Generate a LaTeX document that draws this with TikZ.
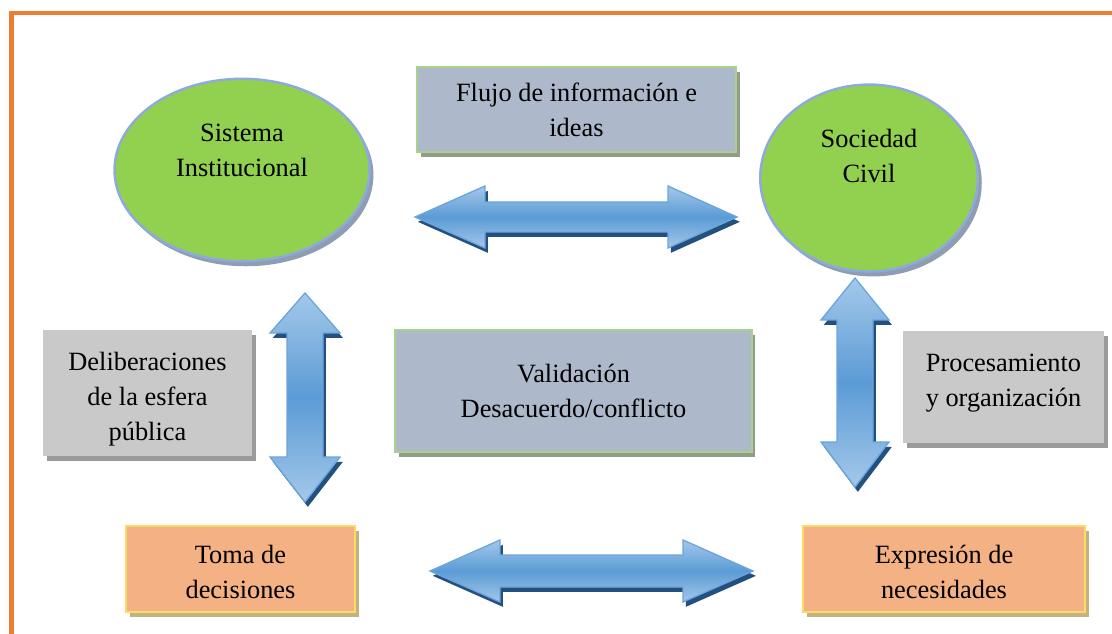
\documentclass[tikz,border=0pt]{standalone}
\usepackage{fontspec}
\setmainfont{Liberation Serif}
\usetikzlibrary{positioning, shapes.geometric, shadows}

\definecolor{frameorange}{HTML}{ED7D31}
\definecolor{ellgreen}{HTML}{92D050}
\definecolor{ellborder}{HTML}{8EAADB}
\definecolor{ellshadow}{HTML}{8E9DB3}
\definecolor{boxblue}{HTML}{ADB9CA}
\definecolor{boxgreen}{HTML}{A9D18E}
\definecolor{infoshadow}{HTML}{939C89}
\definecolor{boxgrey}{HTML}{C9C9C9}
\definecolor{greyshadow}{HTML}{9A9A9A}
\definecolor{boxorange}{HTML}{F4B183}
\definecolor{boxyellow}{HTML}{FFD966}
\definecolor{outshadow}{HTML}{C2B383}
\definecolor{arrowlight}{HTML}{A4C8EA}
\definecolor{arrowmid}{HTML}{5B9BD5}
\definecolor{arrowline}{HTML}{6AA5DC}
\definecolor{arrowshadow}{HTML}{24507E}

\begin{document}
\begin{tikzpicture}[x=0.455pt, y=-0.455pt,
    every node/.style={font=\fontsize{12}{16}\selectfont, align=center},
    boxshadow/.style={drop shadow={shadow xshift=1.8pt, shadow yshift=-2.3pt, fill=#1, opacity=1}},
    blob/.style={ellipse, draw=ellborder, line width=1.1pt, fill=ellgreen, inner sep=0pt, boxshadow=ellshadow},
    infobox/.style={rectangle, draw=boxgreen, line width=0.9pt, fill=boxblue, boxshadow=infoshadow},
    greybox/.style={rectangle, fill=boxgrey, boxshadow=greyshadow},
    outbox/.style={rectangle, draw=boxyellow, line width=1pt, fill=boxorange, boxshadow=outshadow},
    blockarrow/.style={draw=arrowline, line width=0.6pt, line join=miter,
      top color=arrowlight, bottom color=arrowlight, middle color=arrowmid,
      drop shadow={shadow xshift=1.3pt, shadow yshift=-2.2pt, fill=arrowshadow, opacity=1}},
    frameline/.style={draw=frameorange, line width=2pt}]
  \useasboundingbox (0,0) rectangle (1112,634);
  \draw[frameline] (1112,13) -- (11.5,13) -- (11.5,634);

  \node[blob, minimum width=116pt, minimum height=83pt] (sis) at (242,170) {};
  \node (sistxt) at ([yshift=9pt]sis.center) {Sistema\\Institucional};
  \node[blob, minimum width=99pt, minimum height=85pt] (soc) at (869,178) {};
  \node (soctxt) at ([yshift=10pt]soc.center) {Sociedad\\Civil};

  \node[infobox, minimum width=145pt, minimum height=38.7pt] (flujo) at (576.5,109.5)
    {Flujo de información e\\ideas};
  \node[infobox, minimum width=162pt, minimum height=55.5pt] (valid) at (573.5,391)
    {Validación\\Desacuerdo/conflicto};

  \node[greybox, minimum width=95pt, minimum height=57pt] (delib) at (147.5,393) {};
  \node (delibtxt) at ([yshift=-2.8pt]delib.center) {Deliberaciones\\de la esfera\\pública};
  \node[greybox, minimum width=91.5pt, minimum height=51pt] (proc) at (1003.5,387) {};
  \node (proctxt) at ([yshift=1.6pt]proc.center) {Procesamiento\\y organización};

  \node[outbox, minimum width=104pt, minimum height=39pt] (toma) at (240.5,569) {};
  \node (tomatxt) at ([yshift=-1.2pt]toma.center) {Toma de\\decisiones};
  \node[outbox, minimum width=128pt, minimum height=39pt] (expr) at (944,569) {};
  \node (exprtxt) at ([yshift=-1.4pt]expr.center) {Expresión de\\necesidades};

  \path[blockarrow] (415,217) -- (485,186) -- (485,202) -- (668,202) -- (668,186) -- (737,217)
    -- (668,248) -- (668,232) -- (485,232) -- (485,248) -- cycle;
  \path[blockarrow] (430,571) -- (500,540) -- (500,555) -- (683,555) -- (683,540) -- (753,571)
    -- (683,602) -- (683,587) -- (500,587) -- (500,602) -- cycle;
  \path[blockarrow] (305,293) -- (340,333) -- (323,333) -- (323,457) -- (340,457) -- (305,502)
    -- (270,457) -- (287,457) -- (287,333) -- (270,333) -- cycle;
  \path[blockarrow] (855,278) -- (889,320) -- (873,320) -- (873,442) -- (889,442) -- (855,487)
    -- (821,442) -- (837,442) -- (837,320) -- (821,320) -- cycle;
\end{tikzpicture}
\end{document}
